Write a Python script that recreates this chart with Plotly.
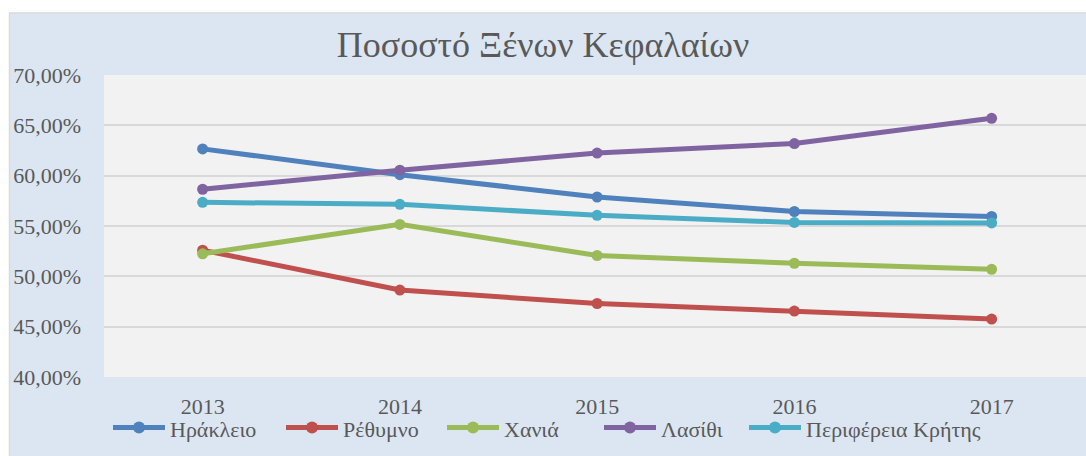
import plotly.graph_objects as go

# Data
years = ["2013", "2014", "2015", "2016", "2017"]
irakleio = [0.6266, 0.6010, 0.5788, 0.5644, 0.5595]
rethymno = [0.5260, 0.4864, 0.4730, 0.4655, 0.4575]
chania = [0.5224, 0.5516, 0.5207, 0.5130, 0.5070]
lasithi = [0.5865, 0.6054, 0.6225, 0.6319, 0.6570]
perifereia = [0.5735, 0.5715, 0.5606, 0.5535, 0.5530]

series = [
    ("Ηράκλειο", irakleio, "#4f81bd"),
    ("Ρέθυμνο", rethymno, "#c0504d"),
    ("Χανιά", chania, "#9bbb59"),
    ("Λασίθι", lasithi, "#8064a2"),
    ("Περιφέρεια Κρήτης", perifereia, "#4bacc6"),
]

W, H = 1086, 456
L, R, T, B = 104, 0, 75, 79
pw, ph = W - L - R, H - T - B


def px_x(p):
    return (p - L) / pw


def px_y(p):
    return (H - B - p) / ph


font_c = "#595959"
serif = "Liberation Serif, Times New Roman, serif"

fig = go.Figure()
for name, vals, col in series:
    fig.add_trace(go.Scatter(x=years, y=vals, name=name, mode="lines+markers",
                             line=dict(color=col, width=5),
                             marker=dict(color=col, size=11),
                             showlegend=False))

# chart frame
shapes = [
    dict(type="rect", xref="paper", yref="paper",
         x0=px_x(-10), x1=px_x(W + 10), y0=px_y(13), y1=px_y(-10),
         fillcolor="white", line=dict(width=0), layer="above"),
    dict(type="rect", xref="paper", yref="paper",
         x0=px_x(-10), x1=px_x(9.5), y0=px_y(H + 10), y1=px_y(-10),
         fillcolor="white", line=dict(width=0), layer="above"),
    dict(type="rect", xref="paper", yref="paper",
         x0=px_x(9.5), x1=px_x(W + 10), y0=px_y(H + 10), y1=px_y(13),
         fillcolor="rgba(0,0,0,0)", line=dict(color="#d9d9d9", width=1.5),
         layer="above"),
]
annotations = []

# legend drawn by hand (Excel-like spacing)
leg_x = [113, 286, 447, 604, 749]
leg_y = 427.5
for (name, vals, col), lx in zip(series, leg_x):
    shapes.append(dict(type="line", xref="paper", yref="paper",
                       x0=px_x(lx), x1=px_x(lx + 52), y0=px_y(leg_y), y1=px_y(leg_y),
                       line=dict(color=col, width=5)))
    cx = lx + 26
    shapes.append(dict(type="circle", xref="paper", yref="paper",
                       x0=px_x(cx - 6), x1=px_x(cx + 6),
                       y0=px_y(leg_y + 6), y1=px_y(leg_y - 6),
                       fillcolor=col, line=dict(width=0)))
    annotations.append(dict(text=name, xref="paper", yref="paper",
                            x=px_x(lx + 55), y=px_y(leg_y + 2),
                            xanchor="left", yanchor="middle", showarrow=False,
                            font=dict(family=serif, size=22, color=font_c)))

fig.update_layout(
    width=W, height=H,
    margin=dict(l=L, r=R, t=T, b=B),
    paper_bgcolor="#dce6f2",
    plot_bgcolor="#f2f2f2",
    separators=", ",
    font=dict(family=serif, color=font_c, size=22),
    title=dict(text="Ποσοστό Ξένων Κεφαλαίων", x=0.5, xanchor="center",
               y=1 - 44 / H, yanchor="middle",
               font=dict(family=serif, size=36, color=font_c)),
    showlegend=False,
    xaxis=dict(type="category", range=[-0.5, -0.5 + pw / 197.25],
               showgrid=False, zeroline=False, showline=False,
               ticks="", ticklabelstandoff=14, fixedrange=True),
    yaxis=dict(range=[0.40, 0.70], dtick=0.05, tickformat=".2%",
               showgrid=True, gridcolor="#d9d9d9", gridwidth=1.5,
               zeroline=False, showline=False, ticks="",
               ticklabelstandoff=22, fixedrange=True),
    shapes=shapes,
    annotations=annotations,
)

fig.write_html("out.html", config={"displayModeBar": False},
               post_script="document.body.style.margin='0';")
